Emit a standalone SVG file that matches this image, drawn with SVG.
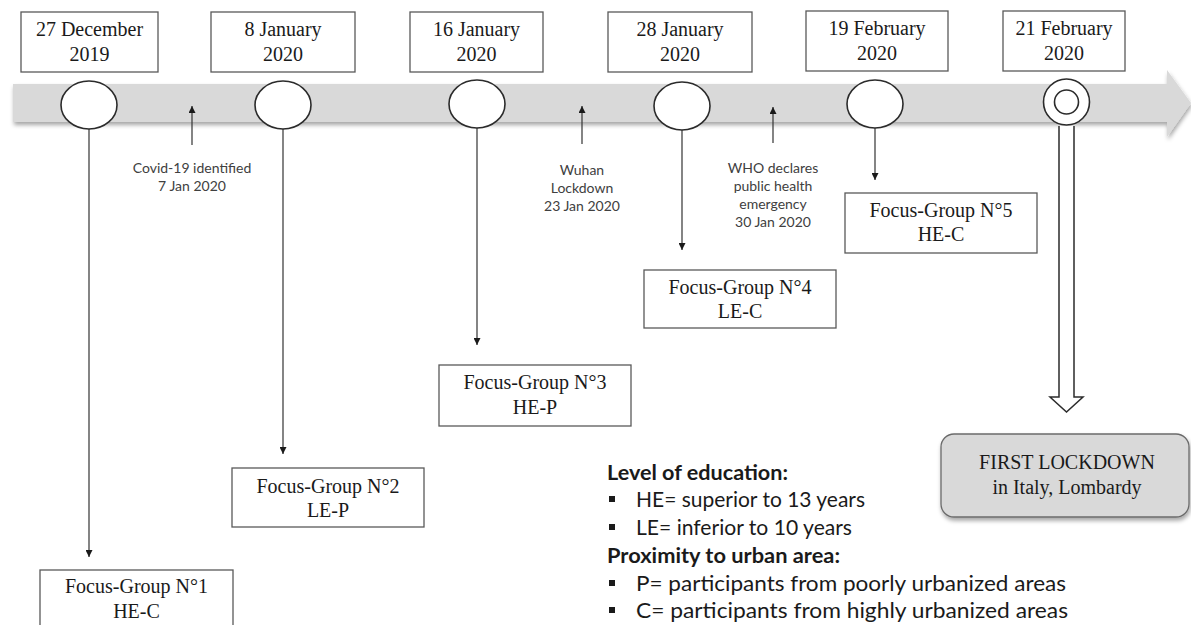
<svg xmlns="http://www.w3.org/2000/svg" width="1191" height="625" viewBox="0 0 1191 625">
<defs>
<style>
.box{fill:#fff;stroke:#595959;stroke-width:1.3}
.dt{font-family:"Liberation Serif","Times New Roman",serif;font-size:20px;fill:#1a1a1a;text-anchor:middle}
.note{font-family:Lato,"Liberation Sans",sans-serif;font-size:14px;fill:#404040;text-anchor:middle}
.leg{font-family:Lato,"Liberation Sans",sans-serif;font-size:21px;fill:#1a1a1a}
.legb{font-family:Lato,"Liberation Sans",sans-serif;font-size:21px;font-weight:bold;fill:#1a1a1a}
.circ{fill:#fff;stroke:#2b2b2b;stroke-width:1.6}
.con{stroke:#333;stroke-width:1.2;fill:none}
</style>
<marker id="ah" viewBox="0 0 10 10" refX="10" refY="5" markerWidth="7" markerHeight="7" markerUnits="userSpaceOnUse" orient="auto">
<path d="M0,0 L10,5 L0,10 z" fill="#1a1a1a"/>
</marker>
<filter id="sh" x="-10%" y="-20%" width="130%" height="160%">
<feDropShadow dx="1" dy="3" stdDeviation="2" flood-color="#000" flood-opacity="0.35"/>
</filter>
</defs>

<g id="timeline">
<path d="M13,84 L1167,84 L1167,70 L1191,103 L1167,137 L1167,122 L13,122 Z" fill="#d9d9d9" filter="url(#sh)"/>
</g>

<g id="connectors">
<line class="con" x1="89" y1="129" x2="89" y2="557" marker-end="url(#ah)"/>
<line class="con" x1="283" y1="129" x2="283" y2="454" marker-end="url(#ah)"/>
<line class="con" x1="477" y1="128" x2="477" y2="345" marker-end="url(#ah)"/>
<line class="con" x1="682" y1="130" x2="682" y2="250" marker-end="url(#ah)"/>
<line class="con" x1="875" y1="128" x2="875" y2="180" marker-end="url(#ah)"/>
<line class="con" x1="192" y1="145" x2="192" y2="106" marker-end="url(#ah)"/>
<line class="con" x1="582" y1="144" x2="582" y2="106" marker-end="url(#ah)"/>
<line class="con" x1="773" y1="143" x2="773" y2="107" marker-end="url(#ah)"/>
<path d="M1059,126 L1059,397 L1050,397 L1066.5,412 L1083,397 L1074,397 L1074,126" fill="#fff" stroke="#2b2b2b" stroke-width="1.5"/>
</g>

<g id="date1"><rect class="box" x="21" y="12" width="137" height="60"/><text class="dt" x="89.5" y="36">27 December</text><text class="dt" x="89.5" y="61">2019</text></g>
<g id="date2"><rect class="box" x="211" y="12" width="144" height="60"/><text class="dt" x="283" y="36">8 January</text><text class="dt" x="283" y="61">2020</text></g>
<g id="date3"><rect class="box" x="410" y="12" width="133" height="60"/><text class="dt" x="476.5" y="36">16 January</text><text class="dt" x="476.5" y="61">2020</text></g>
<g id="date4"><rect class="box" x="608" y="12" width="144" height="60"/><text class="dt" x="680" y="36">28 January</text><text class="dt" x="680" y="61">2020</text></g>
<g id="date5"><rect class="box" x="806" y="11" width="142" height="60"/><text class="dt" x="877" y="35">19 February</text><text class="dt" x="877" y="60">2020</text></g>
<g id="date6"><rect class="box" x="1003" y="11" width="122" height="60"/><text class="dt" x="1064" y="35">21 February</text><text class="dt" x="1064" y="60">2020</text></g>

<g id="c1"><ellipse class="circ" cx="89" cy="105" rx="28" ry="24"/></g>
<g id="c2"><ellipse class="circ" cx="283" cy="105" rx="28" ry="24"/></g>
<g id="c3"><ellipse class="circ" cx="477" cy="104" rx="28" ry="24"/></g>
<g id="c4"><ellipse class="circ" cx="682" cy="106" rx="28" ry="24"/></g>
<g id="c5"><ellipse class="circ" cx="875" cy="104" rx="28" ry="24"/></g>
<g id="c6"><circle class="circ" cx="1066.5" cy="102" r="23"/><circle class="circ" cx="1066.5" cy="102" r="12"/></g>

<g id="note1"><text class="note" x="192" y="173">Covid-19 identified</text><text class="note" x="192" y="191">7 Jan 2020</text></g>
<g id="note2"><text class="note" x="582" y="175">Wuhan</text><text class="note" x="582" y="193">Lockdown</text><text class="note" x="582" y="211">23 Jan 2020</text></g>
<g id="note3"><text class="note" x="773" y="173">WHO declares</text><text class="note" x="773" y="191">public health</text><text class="note" x="773" y="209">emergency</text><text class="note" x="773" y="227">30 Jan 2020</text></g>

<g id="fg1"><rect class="box" x="40" y="570" width="193" height="62"/><text class="dt" x="136.5" y="593">Focus-Group N°1</text><text class="dt" x="136.5" y="618">HE-C</text></g>
<g id="fg2"><rect class="box" x="232" y="468" width="192" height="59"/><text class="dt" x="328" y="493">Focus-Group N°2</text><text class="dt" x="328" y="517">LE-P</text></g>
<g id="fg3"><rect class="box" x="439" y="365" width="192" height="61"/><text class="dt" x="535" y="389">Focus-Group N°3</text><text class="dt" x="535" y="414">HE-P</text></g>
<g id="fg4"><rect class="box" x="644" y="270" width="192" height="58"/><text class="dt" x="740" y="294">Focus-Group N°4</text><text class="dt" x="740" y="318">LE-C</text></g>
<g id="fg5"><rect class="box" x="845" y="193" width="192" height="60"/><text class="dt" x="941" y="217">Focus-Group N°5</text><text class="dt" x="941" y="241">HE-C</text></g>

<g id="lockdown"><rect x="941" y="434" width="248" height="83" rx="13" fill="#d9d9d9" stroke="#6b6b6b" stroke-width="1.3" filter="url(#sh)"/><text class="dt" x="1067" y="469">FIRST LOCKDOWN</text><text class="dt" x="1067" y="494">in Italy, Lombardy</text></g>

<g id="legend">
<text class="legb" x="607" y="480" textLength="181" lengthAdjust="spacingAndGlyphs">Level of education:</text>
<rect x="609" y="496" width="6" height="6" fill="#1a1a1a"/><text class="leg" x="636" y="507" textLength="229" lengthAdjust="spacingAndGlyphs">HE= superior to 13 years</text>
<rect x="609" y="524" width="6" height="6" fill="#1a1a1a"/><text class="leg" x="636" y="535" textLength="216" lengthAdjust="spacingAndGlyphs">LE= inferior to 10 years</text>
<text class="legb" x="607" y="563" textLength="233" lengthAdjust="spacingAndGlyphs">Proximity to urban area:</text>
<rect x="609" y="580" width="6" height="6" fill="#1a1a1a"/><text class="leg" x="636" y="591" textLength="430" lengthAdjust="spacingAndGlyphs">P= participants from poorly urbanized areas</text>
<rect x="609" y="607" width="6" height="6" fill="#1a1a1a"/><text class="leg" x="636" y="618" textLength="432" lengthAdjust="spacingAndGlyphs">C= participants from highly urbanized areas</text>
</g>
</svg>
